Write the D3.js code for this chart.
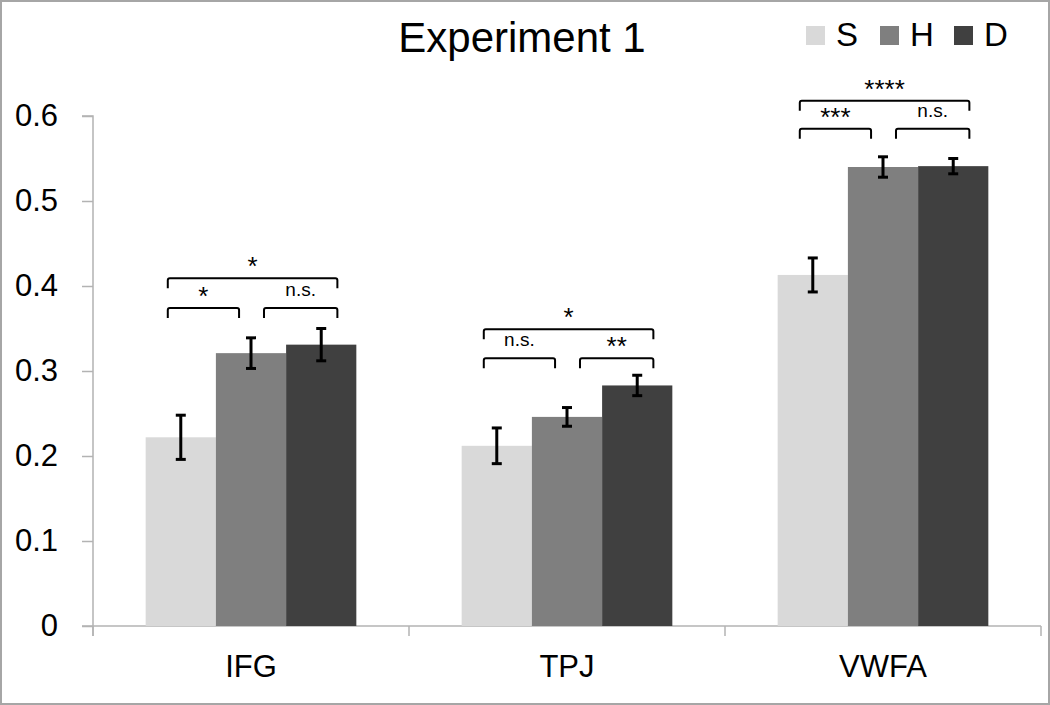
<!DOCTYPE html>
<html>
<head>
<meta charset="utf-8">
<script src="https://cdn.jsdelivr.net/npm/d3@7"></script>
<style>
  html, body { margin: 0; padding: 0; background: #fff; }
  svg { display: block; font-family: Arial, "Liberation Sans", sans-serif; }
</style>
</head>
<body>
<svg id="chart" width="1050" height="705"></svg>
<script>
// ---- data ----
const categories = ["IFG", "TPJ", "VWFA"];
const seriesNames = ["S", "H", "D"];
const valuesS = [0.222, 0.212, 0.413];
const valuesH = [0.321, 0.246, 0.540];
const valuesD = [0.331, 0.283, 0.541];
const errorsS = [0.026, 0.021, 0.020];
const errorsH = [0.018, 0.011, 0.012];
const errorsD = [0.019, 0.012, 0.009];
const yTicks = [0, 0.1, 0.2, 0.3, 0.4, 0.5, 0.6];
const titleText = "Experiment 1";

// significance brackets
const bracketCategory = ["IFG", "IFG", "IFG", "TPJ", "TPJ", "TPJ", "VWFA", "VWFA", "VWFA"];
const bracketFrom     = ["S", "H", "S", "S", "H", "S", "S", "H", "S"];
const bracketTo       = ["H", "D", "D", "H", "D", "D", "H", "D", "D"];
const bracketLevel    = [0.374, 0.374, 0.409, 0.315, 0.315, 0.349, 0.585, 0.585, 0.618];
const bracketLabel    = ["*", "n.s.", "*", "n.s.", "**", "*", "***", "n.s.", "****"];

const colors = ["#d9d9d9", "#7f7f7f", "#404040"];

// ---- build table ----
const valueSets = [valuesS, valuesH, valuesD];
const errorSets = [errorsS, errorsH, errorsD];
const rows = [];
categories.forEach((c, i) => {
  seriesNames.forEach((s, j) => {
    rows.push({ cat: c, ser: s, v: valueSets[j][i], e: errorSets[j][i], j });
  });
});

const svg = d3.select("#chart");
const W = 1050, H = 705;

// frame
svg.append("rect").attr("x", 1).attr("y", 1).attr("width", W - 2).attr("height", H - 2)
  .attr("fill", "#fff").attr("stroke", "#a6a6a6").attr("stroke-width", 2);

const x0 = d3.scaleBand().domain(categories).range([93, 1041]).paddingInner(0).paddingOuter(0);
const bw = x0.bandwidth();
const x1 = d3.scaleBand().domain(seriesNames).range([bw / 6, bw * 5 / 6]).padding(0);
const y = d3.scaleLinear().domain([0, 0.6]).range([626, 116]);
const color = d3.scaleOrdinal().domain(seriesNames).range(colors);

// y axis
const yAxis = svg.append("g").attr("transform", "translate(93,0)")
  .call(d3.axisLeft(y).tickValues(yTicks).tickSize(11).tickPadding(24)
    .tickFormat(d => d === 0 ? "0" : d3.format(".1f")(d)));
yAxis.select(".domain").attr("stroke", "#b3b3b3").attr("stroke-width", 1.5)
  .attr("d", `M-11,${y(0.6)}H0V${y(0) + 10}`);
yAxis.selectAll(".tick line").attr("stroke", "#b3b3b3").attr("stroke-width", 1.5);
yAxis.selectAll(".tick text").attr("font-size", 31).attr("fill", "#000")
  .attr("font-family", "Arial, 'Liberation Sans', sans-serif");

// x axis
const xAxis = svg.append("g").attr("transform", `translate(0,${y(0)})`)
  .call(d3.axisBottom(x0).tickSize(0).tickPadding(30));
xAxis.select(".domain").remove();
xAxis.append("line").attr("x1", 82).attr("x2", 1041).attr("y1", 0).attr("y2", 0)
  .attr("stroke", "#b3b3b3").attr("stroke-width", 1.5);
const boundaries = categories.map(c => x0(c)).concat([x0(categories[categories.length - 1]) + bw]);
xAxis.selectAll(".cattick").data(boundaries).enter().append("line")
  .attr("x1", d => d).attr("x2", d => d).attr("y1", 0).attr("y2", 10)
  .attr("stroke", "#b3b3b3").attr("stroke-width", 1.5);
xAxis.selectAll(".tick text").attr("font-size", 31).attr("fill", "#000")
  .attr("font-family", "Arial, 'Liberation Sans', sans-serif")
  .attr("dy", "0.71em").attr("y", 29);

// bars
const barX = d => x0(d.cat) + x1(d.ser);
svg.append("g").selectAll("rect").data(rows).enter().append("rect")
  .attr("x", barX).attr("width", x1.bandwidth())
  .attr("y", d => y(d.v)).attr("height", d => y(0) - y(d.v))
  .attr("fill", d => color(d.ser));

// error bars
const eg = svg.append("g").attr("stroke", "#000").attr("stroke-width", 3);
rows.forEach(d => {
  const cx = barX(d) + x1.bandwidth() / 2;
  eg.append("line").attr("x1", cx).attr("x2", cx).attr("y1", y(d.v - d.e)).attr("y2", y(d.v + d.e));
  eg.append("line").attr("x1", cx - 5).attr("x2", cx + 5).attr("y1", y(d.v + d.e)).attr("y2", y(d.v + d.e));
  eg.append("line").attr("x1", cx - 5).attr("x2", cx + 5).attr("y1", y(d.v - d.e)).attr("y2", y(d.v - d.e));
});

// brackets
const bg = svg.append("g");
const lastIdx = seriesNames.length - 1;
bracketCategory.forEach((c, i) => {
  const a = seriesNames.indexOf(bracketFrom[i]);
  const b = seriesNames.indexOf(bracketTo[i]);
  const ca = x0(c) + x1(bracketFrom[i]) + x1.bandwidth() / 2;
  const cb = x0(c) + x1(bracketTo[i]) + x1.bandwidth() / 2;
  const bwb = x1.bandwidth();
  const xl = a === 0 ? ca - 0.185 * bwb : ca + 0.185 * bwb;
  const xr = b === lastIdx ? cb + 0.23 * bwb : cb - 0.17 * bwb;
  const yt = y(bracketLevel[i]);
  const leg = 10, r = 2;
  bg.append("path")
    .attr("d", `M${xl},${yt + leg}V${yt + r}Q${xl},${yt} ${xl + r},${yt}H${xr - r}Q${xr},${yt} ${xr},${yt + r}V${yt + leg}`)
    .attr("fill", "none").attr("stroke", "#000").attr("stroke-width", 2);
  const lab = bracketLabel[i];
  const isStar = lab[0] === "*";
  bg.append("text")
    .attr("x", (xl + xr) / 2)
    .attr("y", isStar ? yt - 3 : yt - 12)
    .attr("text-anchor", "middle")
    .attr("font-size", isStar ? 26 : 19)
    .attr("fill", "#000")
    .text(lab);
});

// title
svg.append("text").attr("x", 522).attr("y", 52).attr("text-anchor", "middle")
  .attr("font-size", 42).attr("fill", "#000").text(titleText);

// legend
const lg = svg.append("g");
const legendX = [806, 880, 954];
seriesNames.forEach((s, i) => {
  lg.append("rect").attr("x", legendX[i]).attr("y", 26).attr("width", 19).attr("height", 19)
    .attr("fill", color(s));
  lg.append("text").attr("x", legendX[i] + 30).attr("y", 46).attr("font-size", 33)
    .attr("fill", "#000").text(s);
});
</script>
</body>
</html>
